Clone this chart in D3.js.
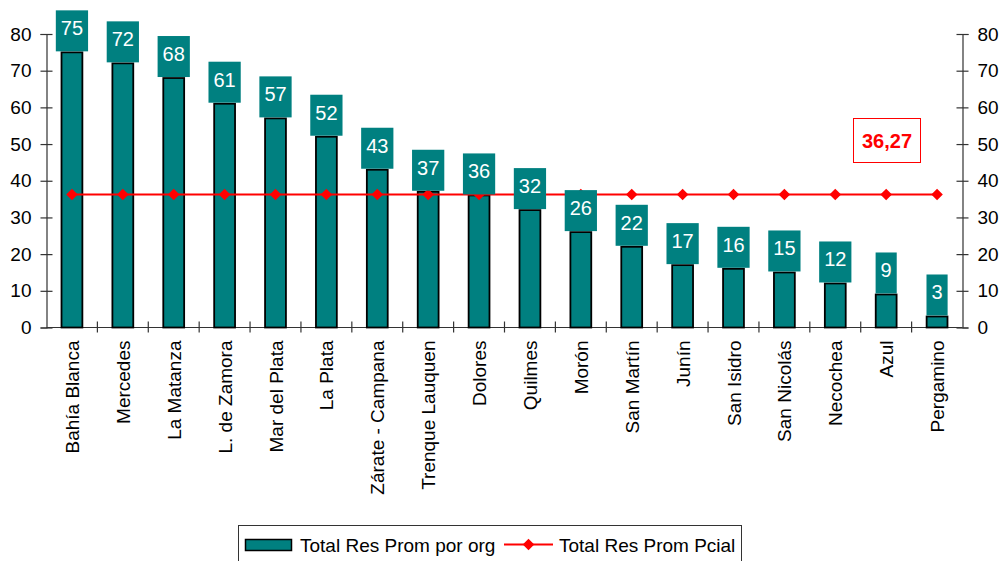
<!DOCTYPE html>
<html>
<head>
<meta charset="utf-8">
<script src="https://cdn.jsdelivr.net/npm/d3@7"></script>
<style>
  body { margin: 0; background: #fff; }
  svg { font-family: "Liberation Sans", Arial, sans-serif; }
</style>
</head>
<body>
<div id="chart"></div>
<script>
// chart values
var categories = ["Bahía Blanca", "Mercedes", "La Matanza", "L. de Zamora", "Mar del Plata",
  "La Plata", "Zárate - Campana", "Trenque Lauquen", "Dolores", "Quilmes", "Morón",
  "San Martín", "Junín", "San Isidro", "San Nicolás", "Necochea", "Azul", "Pergamino"];
var orgValues = [75, 72, 68, 61, 57, 52, 43, 37, 36, 32, 26, 22, 17, 16, 15, 12, 9, 3];
var pcialValues = [36.27, 36.27, 36.27, 36.27, 36.27, 36.27, 36.27, 36.27, 36.27,
  36.27, 36.27, 36.27, 36.27, 36.27, 36.27, 36.27, 36.27, 36.27];
var pcialLabel = "36,27";
var yTicks = [0, 10, 20, 30, 40, 50, 60, 70, 80];
var seriesNames = ["Total Res Prom por org", "Total Res Prom Pcial"];

var width = 1002, height = 561;
var plotLeft = 46.5, plotRight = 962.5, plotTop = 34, plotBottom = 327.5;
var teal = "#008080", red = "#ff0000";

var svg = d3.select("#chart").append("svg")
  .attr("width", width)
  .attr("height", height);

var x = d3.scaleBand().domain(categories).range([plotLeft, plotRight]).padding(0);
var y = d3.scaleLinear().domain([0, 80]).range([plotBottom, plotTop]);
var cx = (d, i) => x(categories[i]) + x.bandwidth() / 2;

// left axis
var yLeft = svg.append("g")
  .attr("transform", "translate(" + plotLeft + ",0)")
  .call(d3.axisLeft(y).tickValues(yTicks).tickSize(6).tickPadding(9));
yLeft.selectAll(".tick line").attr("x1", 6).attr("x2", -6);

// right axis
var yRight = svg.append("g")
  .attr("transform", "translate(" + plotRight + ",0)")
  .call(d3.axisRight(y).tickValues(yTicks).tickSize(6).tickPadding(9));
yRight.selectAll(".tick line").attr("x1", -6).attr("x2", 6);

[yLeft, yRight].forEach(function (g) {
  g.select(".domain").attr("stroke", "#333").attr("stroke-width", 1.2);
  g.selectAll(".tick line").attr("stroke", "#333").attr("stroke-width", 1.2);
  g.selectAll(".tick text").attr("font-size", 19).attr("fill", "#000");
});

// x axis line and ticks at band boundaries
var xAxis = svg.append("g");
xAxis.append("line")
  .attr("x1", plotLeft).attr("x2", plotRight)
  .attr("y1", plotBottom).attr("y2", plotBottom)
  .attr("stroke", "#333").attr("stroke-width", 1.2);
xAxis.selectAll("line.xt")
  .data(categories.slice(1))
  .enter().append("line")
  .attr("class", "xt")
  .attr("x1", d => x(d)).attr("x2", d => x(d))
  .attr("y1", plotBottom - 6).attr("y2", plotBottom + 5)
  .attr("stroke", "#333").attr("stroke-width", 1.2);

xAxis.selectAll("text.cat")
  .data(categories)
  .enter().append("text")
  .attr("class", "cat")
  .attr("transform", d => "translate(" + (x(d) + x.bandwidth() / 2 + 7) + "," + (plotBottom + 13) + ") rotate(-90)")
  .attr("text-anchor", "end")
  .attr("font-size", 19)
  .text(d => d);

// bars
var barW = x.bandwidth() * 0.41;
svg.selectAll("rect.bar")
  .data(orgValues)
  .enter().append("rect")
  .attr("class", "bar")
  .attr("x", (d, i) => cx(d, i) - barW / 2)
  .attr("y", d => y(d))
  .attr("width", barW)
  .attr("height", d => plotBottom - y(d))
  .attr("fill", teal)
  .attr("stroke", "#000")
  .attr("stroke-width", 1.8);

// provincial average line
var line = d3.line()
  .x((d, i) => cx(d, i))
  .y(d => y(d));
svg.append("path")
  .datum(pcialValues)
  .attr("d", line)
  .attr("fill", "none")
  .attr("stroke", red)
  .attr("stroke-width", 2);

var diamond = d3.symbol().type(d3.symbolDiamond2).size(85);
svg.selectAll("path.pt")
  .data(pcialValues)
  .enter().append("path")
  .attr("class", "pt")
  .attr("d", diamond)
  .attr("transform", (d, i) => "translate(" + cx(d, i) + "," + y(d) + ")")
  .attr("fill", red);

// value labels
var labels = svg.selectAll("g.lbl")
  .data(orgValues)
  .enter().append("g")
  .attr("class", "lbl")
  .attr("transform", (d, i) => "translate(" + cx(d, i) + "," + (y(d) - 1) + ")");

labels.append("text")
  .attr("text-anchor", "middle")
  .attr("y", -16)
  .attr("font-size", 20)
  .attr("fill", "#fff")
  .text(d => d);

labels.each(function () {
  var g = d3.select(this);
  var w = g.select("text").node().getComputedTextLength();
  g.insert("rect", "text")
    .attr("x", -w / 2 - 5)
    .attr("y", -41)
    .attr("width", w + 10)
    .attr("height", 41)
    .attr("fill", teal);
});

// average value callout
var callout = svg.append("g");
callout.append("rect")
  .attr("x", 853.5).attr("y", 118.5)
  .attr("width", 67).attr("height", 44)
  .attr("fill", "#fff")
  .attr("stroke", red).attr("stroke-width", 1);
callout.append("text")
  .attr("x", 887).attr("y", 148)
  .attr("text-anchor", "middle")
  .attr("font-size", 20)
  .attr("font-weight", "bold")
  .attr("fill", red)
  .text(pcialLabel);

// legend
var legend = svg.append("g");
legend.append("rect")
  .attr("x", 238.5).attr("y", 525.5)
  .attr("width", 503).attr("height", 40)
  .attr("fill", "#fff")
  .attr("stroke", "#333").attr("stroke-width", 1);
legend.append("rect")
  .attr("x", 245.5).attr("y", 539.5)
  .attr("width", 46).attr("height", 11)
  .attr("fill", teal)
  .attr("stroke", "#000").attr("stroke-width", 1.5);
legend.append("text")
  .attr("x", 300).attr("y", 552)
  .attr("font-size", 19)
  .text(seriesNames[0]);
legend.append("line")
  .attr("x1", 504).attr("x2", 553)
  .attr("y1", 544.5).attr("y2", 544.5)
  .attr("stroke", red).attr("stroke-width", 2);
legend.append("path")
  .attr("d", diamond)
  .attr("transform", "translate(528.5,544.5)")
  .attr("fill", red);
legend.append("text")
  .attr("x", 559).attr("y", 552)
  .attr("font-size", 19)
  .text(seriesNames[1]);
</script>
</body>
</html>
